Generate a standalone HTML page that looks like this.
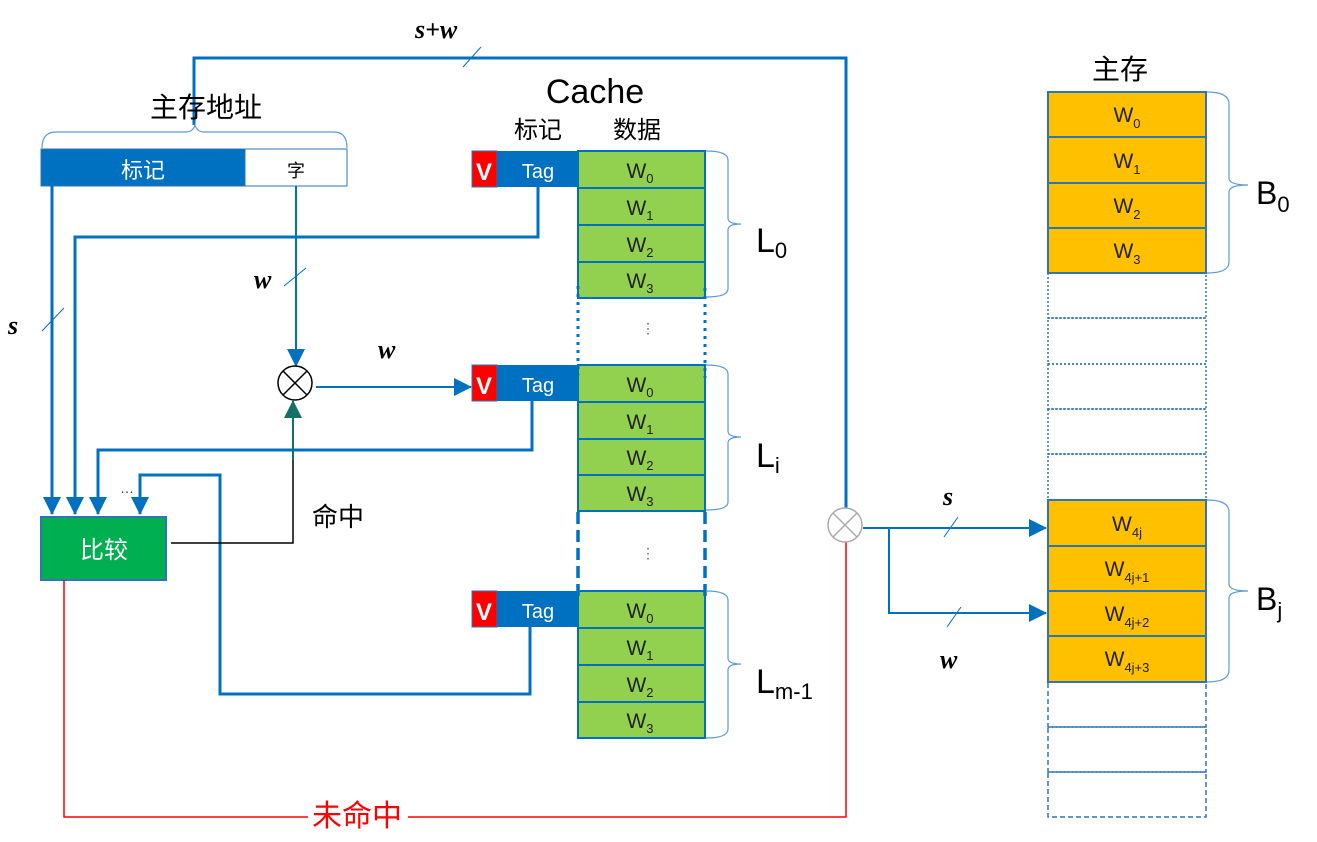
<!DOCTYPE html>
<html><head><meta charset="utf-8"><style>
html,body{margin:0;padding:0;background:#fff;}
svg{display:block;}
text{font-family:"Liberation Sans","Noto Sans CJK SC",sans-serif;}
.w{font-size:21px;fill:#222;text-anchor:middle;}
.sub{font-size:13px;}
.it{font-family:"Liberation Serif",serif;font-style:italic;font-size:26px;font-weight:bold;fill:#000;}
</style></head><body>
<svg width="1317" height="842" viewBox="0 0 1317 842" xmlns="http://www.w3.org/2000/svg">
<defs>
<marker id="abig" markerWidth="18" markerHeight="18" refX="17" refY="9" orient="auto" markerUnits="userSpaceOnUse" viewBox="0 0 18 18"><path d="M0,0 L18,9 L0,18 z" fill="#0070c0"/></marker>
<marker id="at" markerWidth="18" markerHeight="18" refX="17" refY="9" orient="auto" markerUnits="userSpaceOnUse" viewBox="0 0 18 18"><path d="M0,0 L18,9 L0,18 z" fill="#127067"/></marker>
</defs>

<polyline points="194,125 194,58 846,58 846,510" fill="none" stroke="#0070c0" stroke-width="3"/>
<line x1="463" y1="67" x2="481" y2="47" stroke="#0070c0" stroke-width="1"/>
<text x="415" y="38" class="it">s+w</text>

<text x="206" y="117" font-size="28" text-anchor="middle">主存地址</text>
<path d="M42,148 Q42,132 56,132 L186,132 Q193,132 195,125 Q197,132 204,132 L334,132 Q347,132 347,148" fill="none" stroke="#5b9bd5" stroke-width="1.2"/>
<rect x="41" y="149" width="204" height="37" fill="#0070c0" stroke="#2e75b6"/>
<rect x="245" y="149" width="102" height="37" fill="#fff" stroke="#2e75b6"/>
<text x="143" y="178" font-size="22" fill="#fff" text-anchor="middle">标记</text>
<text x="296" y="177" font-size="18" text-anchor="middle">字</text>

<line x1="52" y1="186" x2="52" y2="514" stroke="#0070c0" stroke-width="3" marker-end="url(#abig)"/>
<line x1="42" y1="331" x2="64" y2="308" stroke="#0070c0" stroke-width="1"/>
<text x="8" y="334" class="it">s</text>
<polyline points="538,187 538,237 75,237 75,514" fill="none" stroke="#0070c0" stroke-width="3" marker-end="url(#abig)"/>
<polyline points="532,401 532,450 98,450 98,514" fill="none" stroke="#0070c0" stroke-width="3" marker-end="url(#abig)"/>
<polyline points="530,627 530,694 220,694 220,475 140,475 140,514" fill="none" stroke="#0070c0" stroke-width="3" marker-end="url(#abig)"/>
<text x="120" y="493" font-size="14" fill="#333">…</text>

<line x1="296" y1="186" x2="296" y2="366" stroke="#0070c0" stroke-width="2" marker-end="url(#abig)"/>
<line x1="284" y1="286" x2="306" y2="268" stroke="#0070c0" stroke-width="1"/>
<text x="254" y="288" class="it">w</text>

<circle cx="295" cy="383" r="17" fill="#fff" stroke="#000" stroke-width="1.5"/>
<line x1="283" y1="371" x2="307" y2="395" stroke="#000" stroke-width="1.5"/>
<line x1="307" y1="371" x2="283" y2="395" stroke="#000" stroke-width="1.5"/>
<line x1="316" y1="387" x2="471" y2="387" stroke="#0070c0" stroke-width="2" marker-end="url(#abig)"/>
<text x="378" y="358" class="it">w</text>

<rect x="41" y="517" width="125" height="63" fill="#00b050" stroke="#2e75b6" stroke-width="2"/>
<text x="104" y="558" font-size="24" fill="#fff" text-anchor="middle">比较</text>
<polyline points="171,543 293,543 293,401" fill="none" stroke="#000" stroke-width="1.5"/>
<line x1="293" y1="460" x2="293" y2="401" stroke="#127067" stroke-width="2" marker-end="url(#at)"/>
<text x="312" y="526" font-size="26">命中</text>

<polyline points="64,580 64,817 308,817" fill="none" stroke="#ff0000" stroke-width="1.5"/>
<polyline points="408,817 846,817 846,540" fill="none" stroke="#ff0000" stroke-width="1.5"/>
<text x="357" y="826" font-size="30" fill="#ff0000" text-anchor="middle">未命中</text>

<text x="595" y="103" font-size="34" text-anchor="middle">Cache</text>
<text x="538" y="138" font-size="24" text-anchor="middle">标记</text>
<text x="637" y="138" font-size="24" text-anchor="middle">数据</text>

<g>
<rect x="472" y="151" width="25" height="36" fill="#ff0000" stroke="#2e75b6"/>
<rect x="497" y="151" width="81" height="36" fill="#0070c0"/>
<text x="484" y="180" font-size="24" font-weight="bold" fill="#fff" text-anchor="middle">V</text>
<text x="538" y="178" font-size="20" fill="#fff" text-anchor="middle">Tag</text>
<rect x="578" y="151" width="127" height="37" fill="#92d050" stroke="#0070c0" stroke-width="2"/>
<rect x="578" y="188" width="127" height="37" fill="#92d050" stroke="#0070c0" stroke-width="2"/>
<rect x="578" y="225" width="127" height="37" fill="#92d050" stroke="#0070c0" stroke-width="2"/>
<rect x="578" y="262" width="127" height="36" fill="#92d050" stroke="#0070c0" stroke-width="2"/>
<text x="640" y="178" class="w">W<tspan class="sub" dy="5">0</tspan></text>
<text x="640" y="215" class="w">W<tspan class="sub" dy="5">1</tspan></text>
<text x="640" y="252" class="w">W<tspan class="sub" dy="5">2</tspan></text>
<text x="640" y="288" class="w">W<tspan class="sub" dy="5">3</tspan></text>
</g>
<g>
<rect x="472" y="365" width="25" height="36" fill="#ff0000" stroke="#2e75b6"/>
<rect x="497" y="365" width="81" height="36" fill="#0070c0"/>
<text x="484" y="394" font-size="24" font-weight="bold" fill="#fff" text-anchor="middle">V</text>
<text x="538" y="392" font-size="20" fill="#fff" text-anchor="middle">Tag</text>
<rect x="578" y="365" width="127" height="37" fill="#92d050" stroke="#0070c0" stroke-width="2"/>
<rect x="578" y="402" width="127" height="37" fill="#92d050" stroke="#0070c0" stroke-width="2"/>
<rect x="578" y="439" width="127" height="36" fill="#92d050" stroke="#0070c0" stroke-width="2"/>
<rect x="578" y="475" width="127" height="36" fill="#92d050" stroke="#0070c0" stroke-width="2"/>
<text x="640" y="392" class="w">W<tspan class="sub" dy="5">0</tspan></text>
<text x="640" y="429" class="w">W<tspan class="sub" dy="5">1</tspan></text>
<text x="640" y="465" class="w">W<tspan class="sub" dy="5">2</tspan></text>
<text x="640" y="501" class="w">W<tspan class="sub" dy="5">3</tspan></text>
</g>
<g>
<rect x="472" y="591" width="25" height="36" fill="#ff0000" stroke="#2e75b6"/>
<rect x="497" y="591" width="81" height="36" fill="#0070c0"/>
<text x="484" y="620" font-size="24" font-weight="bold" fill="#fff" text-anchor="middle">V</text>
<text x="538" y="618" font-size="20" fill="#fff" text-anchor="middle">Tag</text>
<rect x="578" y="591" width="127" height="37" fill="#92d050" stroke="#0070c0" stroke-width="2"/>
<rect x="578" y="628" width="127" height="37" fill="#92d050" stroke="#0070c0" stroke-width="2"/>
<rect x="578" y="665" width="127" height="37" fill="#92d050" stroke="#0070c0" stroke-width="2"/>
<rect x="578" y="702" width="127" height="36" fill="#92d050" stroke="#0070c0" stroke-width="2"/>
<text x="640" y="618" class="w">W<tspan class="sub" dy="5">0</tspan></text>
<text x="640" y="655" class="w">W<tspan class="sub" dy="5">1</tspan></text>
<text x="640" y="692" class="w">W<tspan class="sub" dy="5">2</tspan></text>
<text x="640" y="728" class="w">W<tspan class="sub" dy="5">3</tspan></text>
</g>
<line x1="578" y1="286" x2="578" y2="375" stroke="#0070c0" stroke-width="3" stroke-dasharray="3,5"/>
<line x1="705" y1="288" x2="705" y2="378" stroke="#0070c0" stroke-width="3" stroke-dasharray="3,5"/>
<text x="648" y="333" font-size="14" fill="#555" text-anchor="middle">⋮</text>
<line x1="578" y1="512" x2="578" y2="600" stroke="#0070c0" stroke-width="3.5" stroke-dasharray="12,6"/>
<line x1="705" y1="512" x2="705" y2="600" stroke="#0070c0" stroke-width="3.5" stroke-dasharray="12,6"/>
<text x="648" y="558" font-size="14" fill="#555" text-anchor="middle">⋮</text>

<g fill="none" stroke="#5b9bd5" stroke-width="1.2">
<path d="M706,151 Q728,151 728,160 L728,218 Q728,224 741,224 Q728,224 728,230 L728,289 Q728,297 706,297"/>
<path d="M706,365 Q728,365 728,374 L728,431 Q728,437 741,437 Q728,437 728,443 L728,502 Q728,510 706,510"/>
<path d="M706,591 Q728,591 728,600 L728,658 Q728,664 741,664 Q728,664 728,670 L728,729 Q728,738 706,738"/>
<path d="M1207,92 Q1229,92 1229,104 L1229,178 Q1229,185 1248,185 Q1229,185 1229,192 L1229,262 Q1229,273 1207,273"/>
<path d="M1207,500 Q1229,500 1229,512 L1229,584 Q1229,591 1248,591 Q1229,591 1229,598 L1229,670 Q1229,682 1207,682"/>
</g>
<text x="756" y="252" font-size="34">L<tspan font-size="22" dy="6">0</tspan></text>
<text x="756" y="467" font-size="34">L<tspan font-size="22" dy="6">i</tspan></text>
<text x="756" y="693" font-size="34">L<tspan font-size="22" dy="6">m-1</tspan></text>

<circle cx="845" cy="525" r="17" fill="#fff" stroke="#aaa" stroke-width="1.5"/>
<line x1="833" y1="513" x2="857" y2="537" stroke="#aaa" stroke-width="1.5"/>
<line x1="857" y1="513" x2="833" y2="537" stroke="#aaa" stroke-width="1.5"/>
<line x1="863" y1="528" x2="1046" y2="528" stroke="#0070c0" stroke-width="2" marker-end="url(#abig)"/>
<polyline points="889,528 889,613 1046,613" fill="none" stroke="#0070c0" stroke-width="2" marker-end="url(#abig)"/>
<line x1="944" y1="537" x2="958" y2="517" stroke="#0070c0" stroke-width="1"/>
<line x1="947" y1="627" x2="961" y2="607" stroke="#0070c0" stroke-width="1"/>
<text x="943" y="505" class="it">s</text>
<text x="940" y="668" class="it">w</text>

<text x="1120" y="79" font-size="28" text-anchor="middle">主存</text>
<g stroke="#2e75b6" stroke-width="2" fill="#ffc000">
<rect x="1048" y="92" width="158" height="45"/>
<rect x="1048" y="137" width="158" height="46"/>
<rect x="1048" y="183" width="158" height="45"/>
<rect x="1048" y="228" width="158" height="45"/>
<rect x="1048" y="500" width="158" height="46"/>
<rect x="1048" y="546" width="158" height="45"/>
<rect x="1048" y="591" width="158" height="45"/>
<rect x="1048" y="636" width="158" height="46"/>
</g>
<g stroke="#2e75b6" stroke-width="1.5" fill="none" stroke-dasharray="2,2">
<rect x="1048" y="273" width="158" height="45"/>
<rect x="1048" y="318" width="158" height="46"/>
<rect x="1048" y="364" width="158" height="45"/>
<rect x="1048" y="409" width="158" height="45"/>
<rect x="1048" y="454" width="158" height="46"/>
</g>
<g stroke="#2e75b6" stroke-width="1.5" fill="none" stroke-dasharray="5,3">
<rect x="1048" y="682" width="158" height="45"/>
<rect x="1048" y="727" width="158" height="45"/>
<rect x="1048" y="772" width="158" height="45"/>
</g>
<text x="1127" y="122" class="w" font-size="22">W<tspan class="sub" font-size="14" dy="6">0</tspan></text>
<text x="1127" y="168" class="w" font-size="22">W<tspan class="sub" font-size="14" dy="6">1</tspan></text>
<text x="1127" y="213" class="w" font-size="22">W<tspan class="sub" font-size="14" dy="6">2</tspan></text>
<text x="1127" y="258" class="w" font-size="22">W<tspan class="sub" font-size="14" dy="6">3</tspan></text>
<text x="1127" y="531" class="w" font-size="22">W<tspan class="sub" font-size="16" dy="6">4j</tspan></text>
<text x="1127" y="576" class="w" font-size="22">W<tspan class="sub" font-size="16" dy="6">4j+1</tspan></text>
<text x="1127" y="621" class="w" font-size="22">W<tspan class="sub" font-size="16" dy="6">4j+2</tspan></text>
<text x="1127" y="666" class="w" font-size="22">W<tspan class="sub" font-size="16" dy="6">4j+3</tspan></text>
<text x="1256" y="204" font-size="32">B<tspan font-size="22" dy="8">0</tspan></text>
<text x="1256" y="610" font-size="32">B<tspan font-size="22" dy="8">j</tspan></text>
</svg>
</body></html>
